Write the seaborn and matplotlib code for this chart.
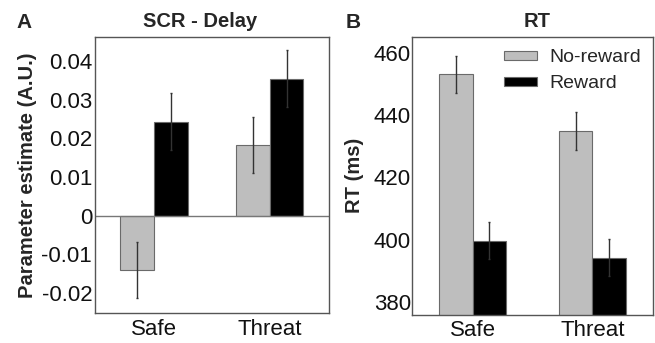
import numpy as np
import pandas as pd
import matplotlib
matplotlib.use("Agg")
import matplotlib.pyplot as plt
import seaborn as sns

conditions = ["Safe", "Threat"]
groups = ["No-reward", "Reward"]
scr_values = [-0.0141, 0.0243, 0.0182, 0.0354]
scr_errors = [0.0072, 0.0074, 0.0073, 0.0074]
rt_values = [453.3, 399.6, 435.0, 394.2]
rt_errors = [6.0, 6.0, 6.0, 6.0]
scr_ticks = [-0.02, -0.01, 0, 0.01, 0.02, 0.03, 0.04]
scr_ticklabels = ["-0.02", "-0.01", "0", "0.01", "0.02", "0.03", "0.04"]
rt_ticks = [380, 400, 420, 440, 460]

sns.set_theme(style="white")
plt.rcParams['font.family'] = ['Liberation Sans', 'DejaVu Sans']

cond_col = [c for c in conditions for _ in groups]
grp_col = [g for _ in conditions for g in groups]
df_scr = pd.DataFrame({"cond": cond_col, "grp": grp_col, "val": scr_values, "err": scr_errors})
df_rt = pd.DataFrame({"cond": cond_col, "grp": grp_col, "val": rt_values, "err": rt_errors})

palette = {"No-reward": "#bebebe", "Reward": "#000000"}
fig = plt.figure(figsize=(6.55, 3.43), dpi=100)
axA = fig.add_axes([0.145, 0.0875, 0.357, 0.805])
axB = fig.add_axes([0.6285, 0.082, 0.369, 0.811])


def draw(ax, df, width, ylim, pad):
    sns.barplot(data=df, x="cond", y="val", hue="grp", order=conditions,
                hue_order=groups, palette=palette, width=width, errorbar=None,
                edgecolor="#6a6a6a", linewidth=0.8, saturation=1, ax=ax, legend=True)
    bar_containers = list(ax.containers)
    for gi, cont in enumerate(bar_containers):
        g = groups[gi]
        for ci, patch in enumerate(cont.patches):
            row = df[(df.cond == conditions[ci]) & (df.grp == g)].iloc[0]
            xc = patch.get_x() + patch.get_width() / 2
            ax.errorbar(xc, row.val, yerr=row.err, fmt="none", ecolor="#333333",
                        elinewidth=1.0, capsize=1.0, capthick=1.0, zorder=5)
    ax.set_xlim(-0.51, 1.51)
    ax.set_ylim(*ylim)
    ax.set_xlabel("")
    ax.tick_params(axis="both", length=0, labelsize=16, colors="#111111")
    ax.tick_params(axis="y", pad=pad)
    ax.tick_params(axis="x", pad=4)
    for s in ax.spines.values():
        s.set_color("#555555")
        s.set_linewidth(1.0)
        s.set_visible(True)


draw(axA, df_scr, 0.58, (-0.0252, 0.0462), 2)
axA.axhline(0, color="#777777", lw=1.0, zorder=1)
axA.set_yticks(scr_ticks)
axA.set_yticklabels(scr_ticklabels)
axA.set_ylabel("Parameter estimate (A.U.)", fontsize=14.5, fontweight="bold", labelpad=3)
axA.set_title("SCR - Delay", fontsize=14.5, fontweight="bold", pad=7, x=0.45)
axA.get_legend().remove()

draw(axB, df_rt, 0.56, (375.7, 465.4), 0.5)
axB.set_yticks(rt_ticks)
axB.set_ylabel("RT (ms)", fontsize=14.5, fontweight="bold", labelpad=7)
axB.set_title("RT", fontsize=14.5, fontweight="bold", pad=7, x=0.52)
leg = axB.get_legend()
leg.remove()
handles, labels = axB.get_legend_handles_labels()
axB.legend(handles[:2], labels[:2], loc="upper right", bbox_to_anchor=(1.0, 1.0),
           frameon=False, fontsize=14, handlelength=1.7, handleheight=0.35,
           borderaxespad=0.25, labelspacing=0.45, handletextpad=0.6)

fig.text(0.025, 0.918, "A", fontsize=15, fontweight="bold")
fig.text(0.528, 0.918, "B", fontsize=15, fontweight="bold")

fig.savefig("out.png", dpi=100)
